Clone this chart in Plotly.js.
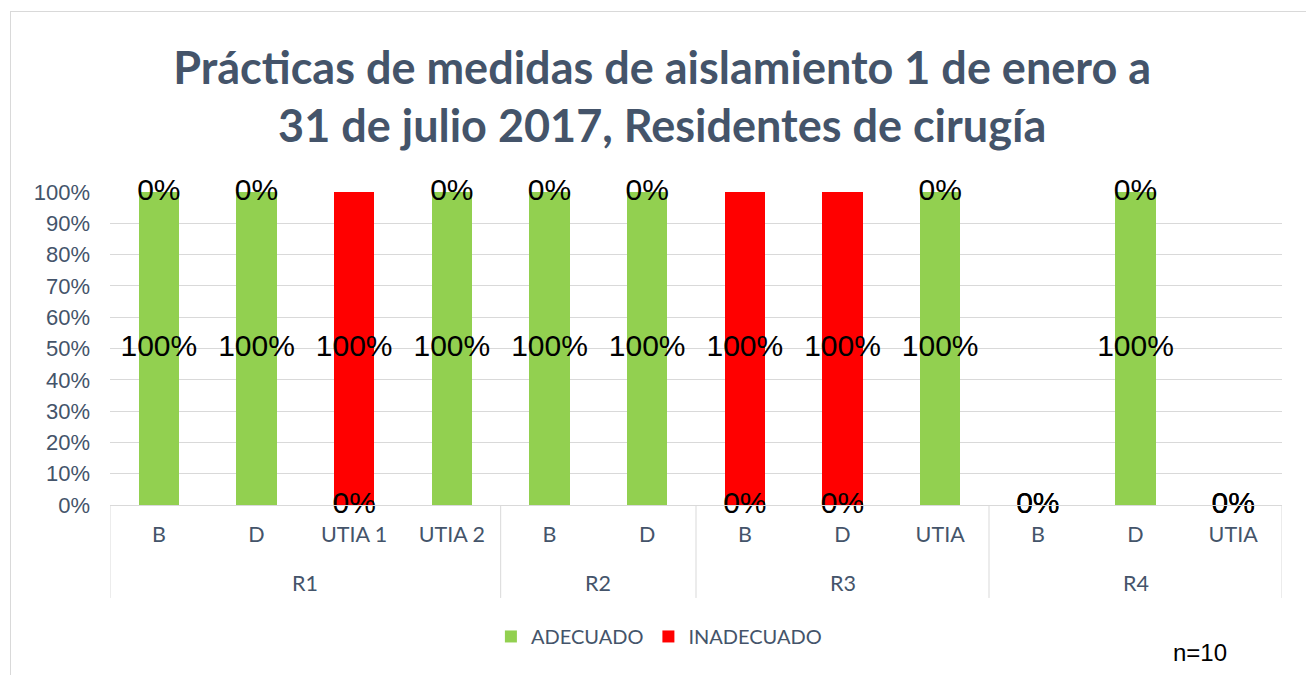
<!DOCTYPE html>
<html>
<head>
<meta charset="utf-8">
<script src="https://cdn.plot.ly/plotly-3.0.1.min.js"></script>
<style>
  html, body { margin: 0; padding: 0; background: #fff; overflow: hidden; }
  #chart { width: 1306px; height: 675px; }
  #frame { position: absolute; left: 10px; top: 11px; width: 1400px; height: 800px;
           border-left: 1px solid #D9D9D9; border-top: 1px solid #D9D9D9; pointer-events: none; }
</style>
</head>
<body>
<div id="chart"></div>
<div id="frame"></div>
<script>
// ---- data ----
const groups = ["R1", "R1", "R1", "R1", "R2", "R2", "R3", "R3", "R3", "R4", "R4", "R4"];
const categories = ["B", "D", "UTIA 1", "UTIA 2", "B", "D", "B", "D", "UTIA", "B", "D", "UTIA"];
const adecuado = [100, 100, 0, 100, 100, 100, 0, 0, 100, 0, 100, 0];
const inadecuado = [0, 0, 100, 0, 0, 0, 100, 100, 0, 0, 0, 0];
const seriesNames = ["ADECUADO", "INADECUADO"];
const colors = ["#92D050", "#FF0000"];

const idx = categories.map((c, i) => i);
const labelFont = { family: "Liberation Sans, Arial, sans-serif", size: 30, color: "#000000" };
const slate = "#44546A";
const lineGray = "#D9D9D9";

const traces = [
  { type: "bar", name: seriesNames[0], x: idx, y: adecuado, marker: { color: colors[0] }, width: 0.41, hoverinfo: "skip" },
  { type: "bar", name: seriesNames[1], x: idx, y: inadecuado, marker: { color: colors[1] }, width: 0.41, hoverinfo: "skip" },
  { type: "scatter", mode: "text", showlegend: false, x: idx,
    y: adecuado.map(v => v / 2),
    text: adecuado.map(v => v + "%"), textposition: "middle center",
    textfont: labelFont, cliponaxis: false, hoverinfo: "skip" },
  { type: "scatter", mode: "text", showlegend: false, x: idx,
    y: inadecuado.map((v, i) => adecuado[i] + v / 2),
    text: inadecuado.map(v => v + "%"), textposition: "middle center",
    textfont: labelFont, cliponaxis: false, hoverinfo: "skip" }
];

// group spans (derived from the groups array)
const spans = [];
groups.forEach((g, i) => {
  if (!spans.length || spans[spans.length - 1].name !== g) spans.push({ name: g, start: i, end: i });
  else spans[spans.length - 1].end = i;
});

const shapes = [];
const annotations = [];
const boundaries = [-0.5].concat(spans.map(s => s.end + 0.5));
boundaries.forEach(b => {
  shapes.push({ type: "line", xref: "x", yref: "paper", x0: b, x1: b, y0: 0, y1: -0.297,
                line: { color: lineGray, width: 1 } });
});
spans.forEach(s => {
  annotations.push({ text: s.name, xref: "x", yref: "paper", x: (s.start + s.end) / 2, y: -0.249,
                     xanchor: "center", yanchor: "middle", showarrow: false,
                     font: { family: "Lato, sans-serif", size: 21.5, color: slate } });
});
annotations.push({ text: "n=10", xref: "paper", yref: "paper", x: 0.930, y: -0.47, xanchor: "center", yanchor: "middle",
  showarrow: false, font: { family: "Liberation Sans, Arial, sans-serif", size: 24, color: "#000000" } });

const layout = {
  width: 1306, height: 675,
  margin: { l: 110, r: 24, t: 192, b: 170 },
  paper_bgcolor: "#ffffff", plot_bgcolor: "#ffffff",
  barmode: "stack",
  title: {
    text: "Prácticas de medidas de aislamiento 1 de enero a<br>31 de julio 2017, Residentes de cirugía",
    font: { family: "Lato, Open Sans, sans-serif", size: 45, color: slate, weight: "bold" },
    x: 0.507, xref: "container", xanchor: "center",
    y: 0.876, yref: "container", yanchor: "top", automargin: false
  },
  xaxis: {
    type: "linear", range: [-0.5, categories.length - 0.5],
    tickmode: "array", tickvals: idx, ticktext: categories,
    showline: true, linecolor: lineGray, linewidth: 1,
    ticks: "", showgrid: false, zeroline: false,
    tickfont: { family: "Lato, sans-serif", size: 21.5, color: slate },
    ticklabelstandoff: 10, automargin: false
  },
  yaxis: {
    range: [0, 100], dtick: 10, ticksuffix: "%",
    showgrid: true, gridcolor: lineGray, gridwidth: 1,
    zeroline: false, showline: false,
    tickfont: { family: "Liberation Sans, Arial, sans-serif", size: 22, color: slate },
    ticklabelstandoff: 19, automargin: false
  },
  showlegend: true,
  legend: {
    orientation: "h", x: 0.325, xanchor: "left", y: -0.42, yanchor: "middle",
    font: { family: "Lato, sans-serif", size: 20, color: slate },
    traceorder: "normal"
  },
  shapes: shapes,
  annotations: annotations
};

Plotly.newPlot("chart", traces, layout, { displayModeBar: false, staticPlot: true });
</script>
</body>
</html>
